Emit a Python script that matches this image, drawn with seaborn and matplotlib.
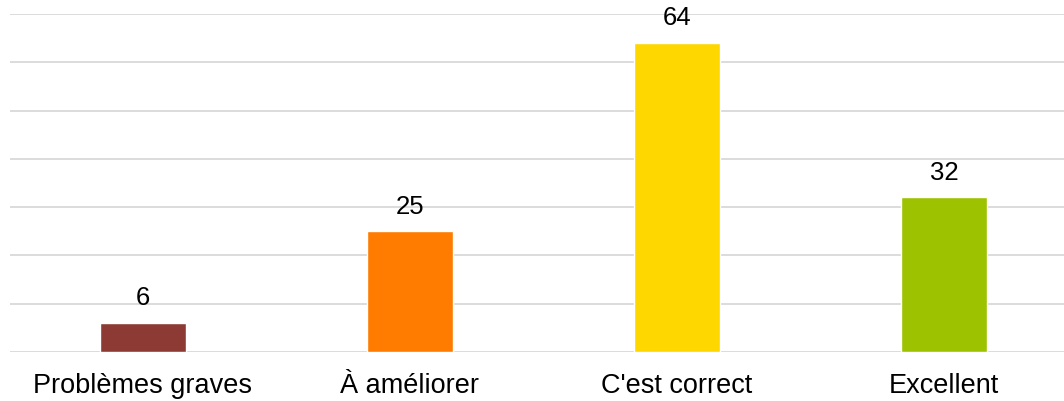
import matplotlib.pyplot as plt
import pandas as pd
import seaborn as sns

categories = ["Problèmes graves", "À améliorer", "C'est correct", "Excellent"]
counts = [6, 25, 64, 32]
bar_colors = ["#8E3A34", "#FF7C00", "#FFD700", "#9DC300"]

df = pd.DataFrame({"categorie": categories, "n": counts})

sns.set_style("white")
plt.rcParams['font.family'] = ['Liberation Sans', 'DejaVu Sans']

fig = plt.figure(figsize=(10.64, 4.02), dpi=100)
ax = fig.add_axes([9.5 / 1064, 49 / 402, 1068 / 1064, 338 / 402])

sns.barplot(data=df, x="categorie", y="n", hue="categorie",
            palette=bar_colors, width=0.32, saturation=1, legend=False,
            ax=ax, zorder=3)

ax.set_ylim(0, 70)
ax.set_yticks(range(0, 71, 10))
ax.yaxis.grid(True, color="#d9d9d9", linewidth=1.3, zorder=0)
ax.set_axisbelow(True)
ax.tick_params(axis="y", left=False, labelleft=False)
ax.tick_params(axis="x", bottom=False, labelsize=19.5, labelcolor="black", pad=11)
for s in ax.spines.values():
    s.set_visible(False)
ax.set(xlabel="", ylabel="")

# value above each bar
for i, v in enumerate(counts):
    ax.annotate(str(v), (i, v), xytext=(0, 13.5), textcoords="offset points",
                ha="center", va="baseline", fontsize=18.5, color="black",
                annotation_clip=False)

plt.savefig("out.png", dpi=100)
